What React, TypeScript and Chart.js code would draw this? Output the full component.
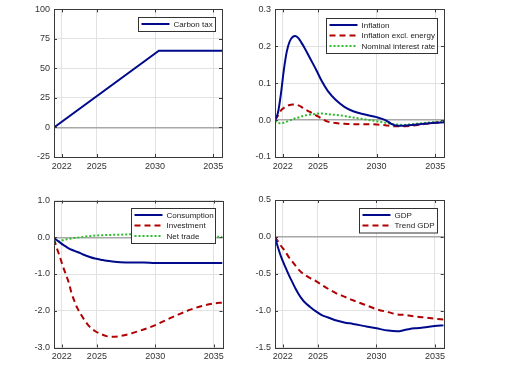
import React, { useEffect, useRef } from "react";
import { Chart, registerables } from "chart.js";

Chart.register(...registerables);

// ---------- data ----------
const xTicks = [2022, 2025, 2030, 2035];
const xMin = 2021.33;
const xMax = 2035.75;

const carbonYears = [2021.33, 2030.33, 2035.75];
const carbonTax = [0, 65, 65];

const inflYears = [2021.33, 2021.58, 2021.83, 2022.08, 2022.33, 2022.58, 2022.83, 2023.08, 2023.33, 2023.58, 2023.83, 2024.33, 2024.83, 2025.33, 2025.83, 2026.5, 2027.25, 2028, 2029, 2030, 2030.75, 2031.25, 2031.75, 2032.25, 2033, 2034, 2035, 2035.75];
const inflation = [0.0, 0.02, 0.07, 0.135, 0.185, 0.213, 0.225, 0.228, 0.222, 0.21, 0.197, 0.167, 0.137, 0.105, 0.079, 0.055, 0.036, 0.024, 0.015, 0.008, 0.0, -0.01, -0.015, -0.015, -0.013, -0.01, -0.007, -0.006];
const inflationExEnergy = [0.0, 0.012, 0.026, 0.033, 0.038, 0.041, 0.042, 0.042, 0.04, 0.036, 0.03, 0.022, 0.013, 0.004, -0.004, -0.008, -0.01, -0.011, -0.011, -0.012, -0.014, -0.016, -0.017, -0.017, -0.015, -0.011, -0.007, -0.006];
const nominalRate = [-0.002, -0.007, -0.009, -0.007, -0.004, -0.001, 0.002, 0.005, 0.007, 0.01, 0.012, 0.015, 0.017, 0.018, 0.016, 0.014, 0.011, 0.007, 0.002, -0.003, -0.007, -0.01, -0.012, -0.013, -0.011, -0.008, -0.005, -0.004];

const demandYears = [2021.33, 2021.58, 2021.83, 2022.08, 2022.33, 2022.58, 2022.83, 2023.08, 2023.33, 2023.58, 2023.83, 2024.33, 2024.83, 2025.33, 2025.83, 2026.33, 2027, 2028, 2029, 2030, 2031, 2032, 2033, 2034, 2035, 2035.75];
const consumption = [-0.02, -0.08, -0.14, -0.2, -0.25, -0.3, -0.34, -0.37, -0.4, -0.43, -0.47, -0.53, -0.58, -0.61, -0.64, -0.66, -0.68, -0.69, -0.69, -0.7, -0.7, -0.7, -0.7, -0.7, -0.7, -0.7];
const investment = [-0.05, -0.3, -0.53, -0.78, -1.0, -1.22, -1.52, -1.74, -1.93, -2.07, -2.2, -2.42, -2.55, -2.63, -2.69, -2.71, -2.69, -2.61, -2.51, -2.39, -2.24, -2.1, -1.97, -1.87, -1.8, -1.78];
const netTrade = [-0.15, -0.12, -0.1, -0.08, -0.06, -0.05, -0.03, -0.02, -0.01, 0.0, 0.01, 0.03, 0.045, 0.055, 0.06, 0.065, 0.07, 0.08, 0.08, 0.075, 0.07, 0.06, 0.045, 0.03, 0.015, 0.01];

const gdpYears = [2021.33, 2021.58, 2021.83, 2022.08, 2022.33, 2022.58, 2022.83, 2023.08, 2023.33, 2023.58, 2023.83, 2024.33, 2024.83, 2025.33, 2025.83, 2026.5, 2027.25, 2028, 2029, 2030, 2031, 2031.75, 2032.5, 2033.25, 2034, 2035, 2035.75];
const gdp = [-0.01, -0.14, -0.26, -0.36, -0.45, -0.54, -0.62, -0.7, -0.77, -0.83, -0.88, -0.95, -1.01, -1.06, -1.09, -1.13, -1.16, -1.18, -1.21, -1.24, -1.27, -1.28, -1.26, -1.24, -1.23, -1.21, -1.2];
const trendGdp = [0.0, -0.06, -0.12, -0.17, -0.23, -0.29, -0.34, -0.39, -0.44, -0.48, -0.51, -0.56, -0.6, -0.65, -0.7, -0.76, -0.81, -0.86, -0.92, -0.98, -1.02, -1.05, -1.06, -1.08, -1.09, -1.11, -1.12];

// ---------- styles ----------
const BLUE = "#000a8c";
const RED = "#b00000";
const GREEN = "#2dbb2d";
const FONT = "'Liberation Sans', Arial, sans-serif";

type Series = { label: string; years: number[]; values: number[]; color: string; dash: number[]; smooth: boolean };
type Panel = {
  left: number; top: number; width: number; height: number;
  area: { l: number; t: number; r: number; b: number };
  yMin: number; yMax: number; yStep: number; decimals: number;
  legendW: number; legendRight: number; legendTop: number;
  series: Series[];
};

const SOLID: number[] = [];
const DASH = [6, 4];
const DOT = [2, 2];

const panels: Panel[] = [
  {
    left: 0, top: 0, width: 256, height: 188,
    area: { l: 54, t: 8, r: 222, b: 157 },
    yMin: -25, yMax: 100, yStep: 25, decimals: 0,
    legendW: 77, legendRight: 7, legendTop: 8,
    series: [{ label: "Carbon tax", years: carbonYears, values: carbonTax, color: BLUE, dash: SOLID, smooth: false }],
  },
  {
    left: 232, top: 0, width: 280, height: 188,
    area: { l: 275, t: 8, r: 444, b: 157 },
    yMin: -0.1, yMax: 0.3, yStep: 0.1, decimals: 1,
    legendW: 111, legendRight: 7, legendTop: 8.5,
    series: [
      { label: "Inflation", years: inflYears, values: inflation, color: BLUE, dash: SOLID, smooth: true },
      { label: "Inflation excl. energy", years: inflYears, values: inflationExEnergy, color: RED, dash: DASH, smooth: true },
      { label: "Nominal interest rate", years: inflYears, values: nominalRate, color: GREEN, dash: DOT, smooth: true },
    ],
  },
  {
    left: 0, top: 188, width: 256, height: 188,
    area: { l: 54, t: 200.5, r: 222.5, b: 347.5 },
    yMin: -3, yMax: 1, yStep: 1, decimals: 1,
    legendW: 84, legendRight: 7.5, legendTop: 7.5,
    series: [
      { label: "Consumption", years: demandYears, values: consumption, color: BLUE, dash: SOLID, smooth: true },
      { label: "Investment", years: demandYears, values: investment, color: RED, dash: DASH, smooth: true },
      { label: "Net trade", years: demandYears, values: netTrade, color: GREEN, dash: DOT, smooth: true },
    ],
  },
  {
    left: 232, top: 188, width: 280, height: 188,
    area: { l: 275, t: 200, r: 443.7, b: 347.5 },
    yMin: -1.5, yMax: 0.5, yStep: 0.5, decimals: 1,
    legendW: 78, legendRight: 7, legendTop: 8,
    series: [
      { label: "GDP", years: gdpYears, values: gdp, color: BLUE, dash: SOLID, smooth: true },
      { label: "Trend GDP", years: gdpYears, values: trendGdp, color: RED, dash: DASH, smooth: true },
    ],
  },
];

const framePlugin = {
  id: "frameAndLegend",
  afterDraw(chart: any, _args: any, opts: any) {
    const { ctx, chartArea: a } = chart;
    ctx.save();
    ctx.strokeStyle = "#3a3a3a";
    ctx.lineWidth = 1;
    ctx.setLineDash([]);
    ctx.strokeRect(Math.round(a.left) + 0.5, Math.round(a.top) + 0.5, Math.round(a.right - a.left), Math.round(a.bottom - a.top));
    const xs = chart.scales.x;
    const ys = chart.scales.y;
    ctx.beginPath();
    xs.ticks.forEach((t: any) => {
      const px = Math.round(xs.getPixelForValue(t.value)) + 0.5;
      ctx.moveTo(px, a.bottom); ctx.lineTo(px, a.bottom - 3);
      ctx.moveTo(px, a.top); ctx.lineTo(px, a.top + 3);
    });
    ys.ticks.forEach((t: any) => {
      const py = Math.round(ys.getPixelForValue(t.value)) + 0.5;
      ctx.moveTo(a.left, py); ctx.lineTo(a.left + 3, py);
      ctx.moveTo(a.right, py); ctx.lineTo(a.right - 3, py);
    });
    ctx.stroke();
    const items = chart.data.datasets;
    const rowH = 10.5;
    const h = items.length * rowH + 3.5;
    const x0 = Math.round(a.right - opts.right - opts.width) + 0.5;
    const y0 = Math.round(a.top + opts.top) + 0.5;
    ctx.fillStyle = "#ffffff";
    ctx.fillRect(x0, y0, opts.width, h);
    ctx.strokeStyle = "#333333";
    ctx.lineWidth = 1;
    ctx.strokeRect(x0, y0, opts.width, h);
    ctx.font = "8px " + FONT;
    ctx.textBaseline = "middle";
    ctx.textAlign = "left";
    items.forEach((d: any, i: number) => {
      const cy = y0 + 6.5 + i * rowH;
      ctx.beginPath();
      ctx.strokeStyle = d.borderColor;
      ctx.lineWidth = 2;
      ctx.setLineDash(d.borderDash || []);
      ctx.moveTo(x0 + 3, cy);
      ctx.lineTo(x0 + 31, cy);
      ctx.stroke();
      ctx.setLineDash([]);
      ctx.fillStyle = "#222222";
      ctx.fillText(d.label, x0 + 35, cy + 0.5);
    });
    ctx.restore();
  },
};

function PanelChart({ p }: { p: Panel }) {
  const ref = useRef<HTMLCanvasElement>(null);
  useEffect(() => {
    if (!ref.current) return;
    const chart = new Chart(ref.current, {
      type: "line",
      data: {
        datasets: p.series.map((s) => ({
          label: s.label,
          data: s.years.map((x, i) => ({ x, y: s.values[i] })),
          borderColor: s.color,
          backgroundColor: s.color,
          borderDash: s.dash,
          borderWidth: 2,
          pointRadius: 0,
          tension: 0,
          cubicInterpolationMode: (s.smooth ? "monotone" : "default") as any,
          fill: false,
        })),
      },
      options: {
        responsive: false,
        animation: false,
        devicePixelRatio: 1,
        layout: {
          padding: { left: 0, top: p.area.t - p.top, right: p.left + p.width - p.area.r, bottom: 0 },
        },
        plugins: {
          legend: { display: false },
          tooltip: { enabled: false },
          frameAndLegend: { width: p.legendW, right: p.legendRight, top: p.legendTop },
        } as any,
        scales: {
          x: {
            type: "linear",
            min: xMin,
            max: xMax,
            afterBuildTicks: (s: any) => { s.ticks = xTicks.map((v) => ({ value: v })); },
            afterFit: (s: any) => { s.height = p.top + p.height - p.area.b; },
            ticks: {
              autoSkip: false, maxRotation: 0, padding: 4, color: "#333333",
              font: { family: FONT, size: 9 },
              callback: (v: any) => String(v),
            },
            grid: { color: "#e2e2e2", lineWidth: 1, drawTicks: false },
            border: { display: false },
          },
          y: {
            type: "linear",
            min: p.yMin,
            max: p.yMax,
            afterFit: (s: any) => { s.width = p.area.l - p.left; },
            ticks: {
              stepSize: p.yStep, padding: 4, color: "#333333",
              font: { family: FONT, size: 9 },
              callback: (v: any) => Number(v).toFixed(p.decimals),
            },
            grid: {
              drawTicks: false,
              color: (c: any) => (Math.abs(c.tick?.value ?? 1) < 1e-9 ? "#a8a8a8" : "#e2e2e2"),
              lineWidth: (c: any) => (Math.abs(c.tick?.value ?? 1) < 1e-9 ? 1.5 : 1),
            },
            border: { display: false },
          },
        },
      },
      plugins: [framePlugin],
    });
    return () => chart.destroy();
  }, [p]);
  return (
    <canvas
      ref={ref}
      width={p.width}
      height={p.height}
      style={{ position: "absolute", left: p.left, top: p.top, width: p.width, height: p.height }}
    />
  );
}

export default function App() {
  return (
    <div style={{ position: "fixed", left: 0, top: 0, width: 512, height: 376, background: "#ffffff" }}>
      {panels.map((p, i) => (
        <PanelChart key={i} p={p} />
      ))}
    </div>
  );
}
